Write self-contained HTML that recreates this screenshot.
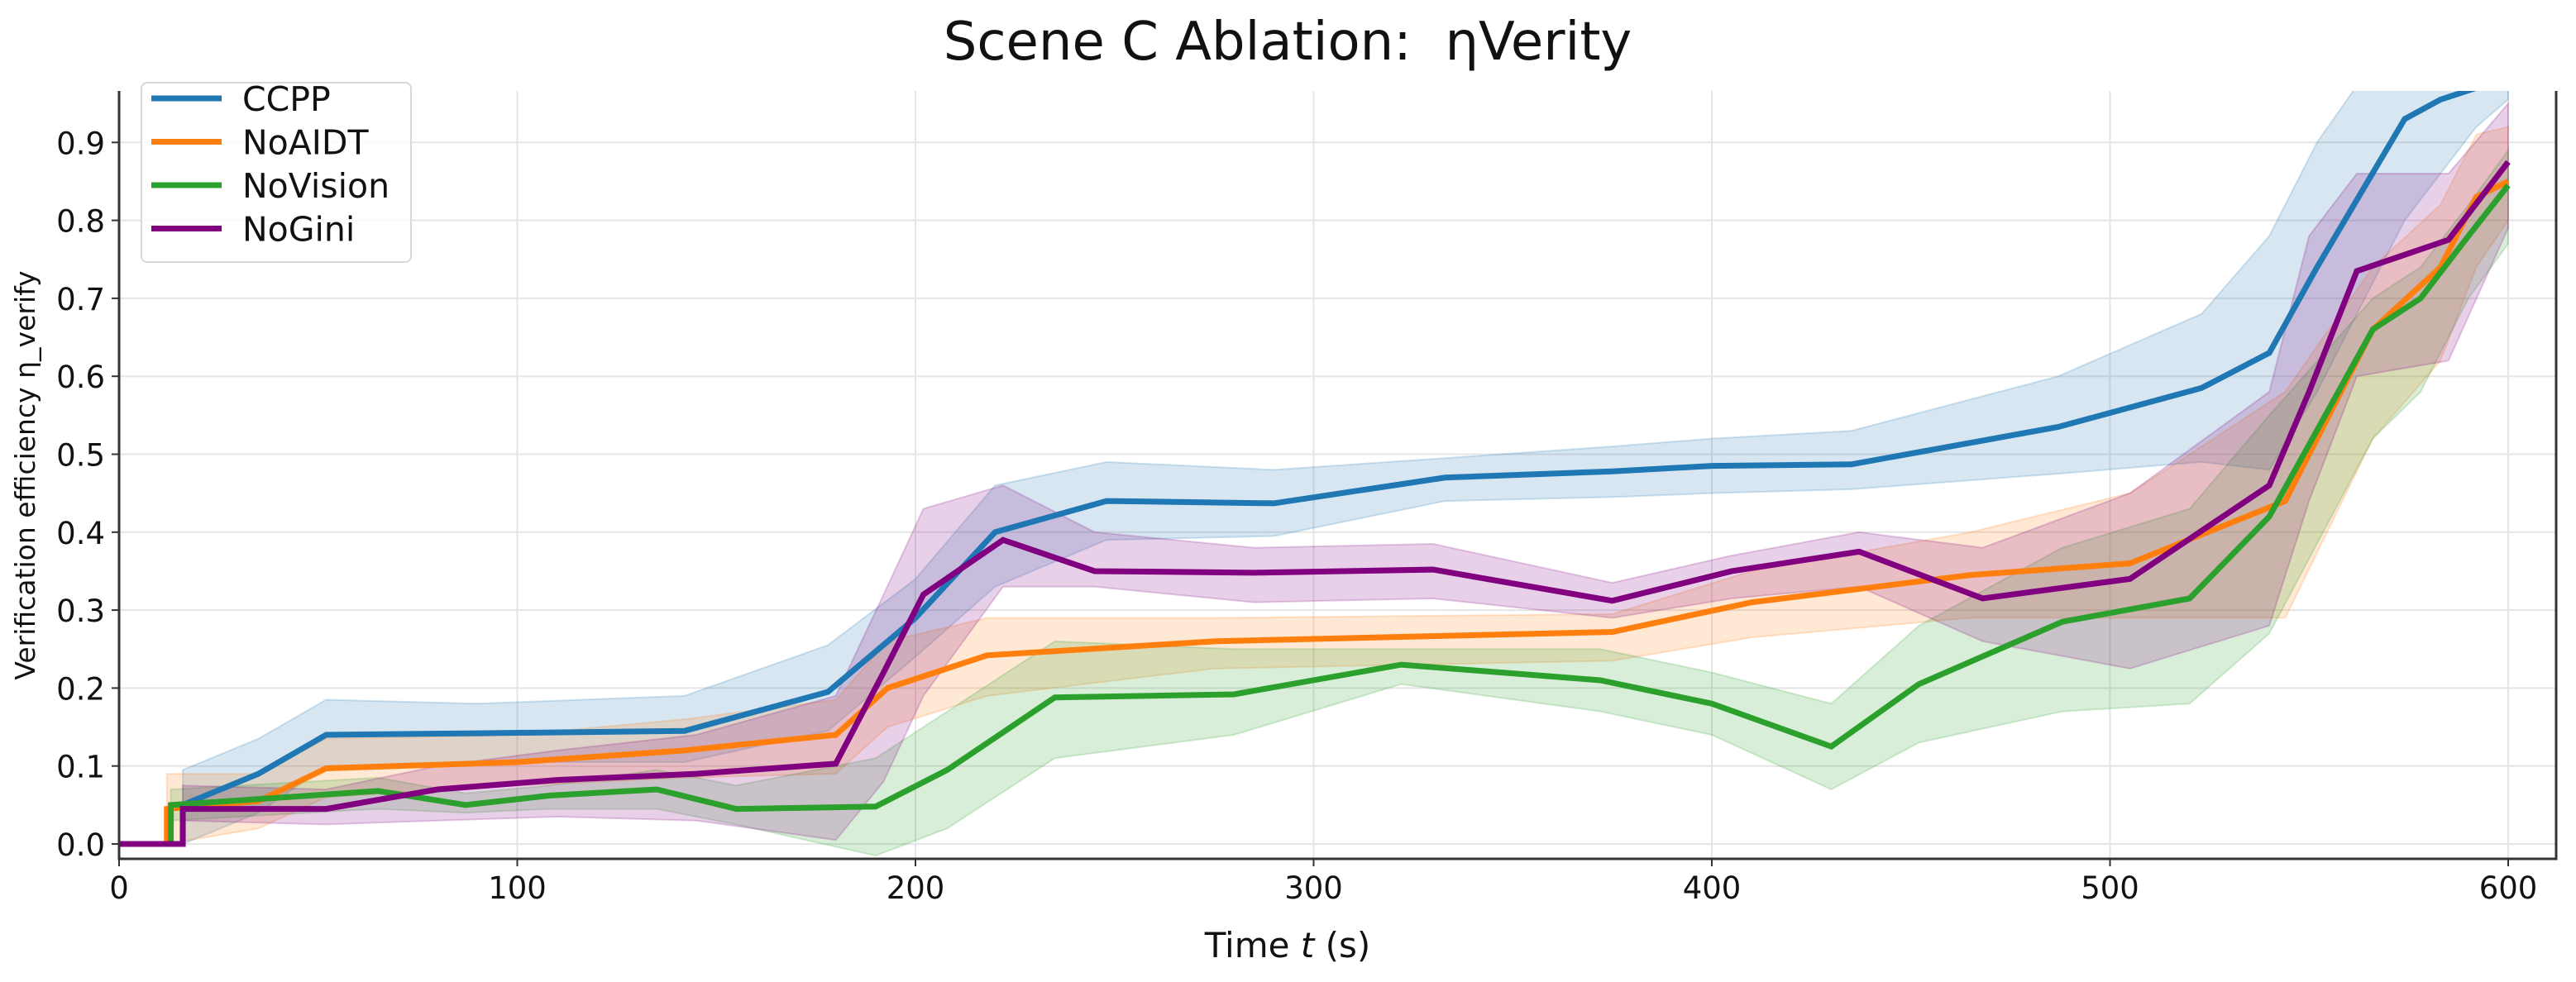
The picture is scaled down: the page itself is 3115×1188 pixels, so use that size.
<!DOCTYPE html>
<html><head><meta charset="utf-8"><style>
html,body{margin:0;padding:0;background:#fff;}
svg text{font-family:"DejaVu Sans","Liberation Sans",sans-serif;}
</style></head><body>
<svg id="chart" width="3115" height="1183" xmlns="http://www.w3.org/2000/svg">
<rect width="3115" height="1183" fill="#fff"/>
<text x="1557" y="72" font-size="64" text-anchor="middle" fill="#111">Scene C Ablation:&#160; ηVerity</text>
<g id="grid"></g>
<defs><clipPath id="clip"><rect x="144" y="110" width="2947" height="929"/></clipPath></defs>
<g id="bands" clip-path="url(#clip)"></g>
<g id="lines" clip-path="url(#clip)"></g>
<g id="axes"></g>
<text x="1557" y="1158" font-size="42" text-anchor="middle" fill="#111">Time <tspan font-style="italic">t</tspan> (s)</text>
<text transform="translate(42,575) rotate(-90)" font-size="33" text-anchor="middle" fill="#111">Verification efficiency η_verify</text>
<g id="legend"></g>
</svg>
<script>
const seriesNames = ["CCPP","NoAIDT","NoVision","NoGini"];
const seriesColors = ["#1f77b4","#ff7f0e","#2ca02c","#800080"];
const xTicks = [0,100,200,300,400,500,600];
const yTicks = [0.0,0.1,0.2,0.3,0.4,0.5,0.6,0.7,0.8,0.9];

const ccppT   = [0,16,16,35,52,90,142,178,200,220,248,290,333,375,400,435,487,523,540,552,574,583,592,600];
const ccppY   = [0,0,0.05,0.09,0.14,0.142,0.145,0.195,0.29,0.40,0.44,0.437,0.47,0.478,0.485,0.487,0.535,0.585,0.63,0.74,0.93,0.955,0.97,0.99];
const ccppLo  = [0,0,0.0,0.04,0.10,0.105,0.105,0.145,0.24,0.33,0.39,0.395,0.44,0.445,0.45,0.455,0.475,0.49,0.48,0.58,0.80,0.86,0.92,0.955];
const ccppHi  = [0,0,0.095,0.135,0.185,0.18,0.19,0.255,0.34,0.46,0.49,0.48,0.495,0.51,0.52,0.53,0.60,0.68,0.78,0.90,1.06,1.06,1.06,1.06];

const aidtT   = [0,12,12,35,52,100,142,180,193,218,275,375,410,465,505,544,566,583,592,600];
const aidtY   = [0,0,0.045,0.055,0.097,0.105,0.12,0.14,0.2,0.242,0.26,0.272,0.31,0.345,0.36,0.44,0.66,0.74,0.83,0.85];
const aidtLo  = [0,0,0.0,0.02,0.06,0.075,0.085,0.09,0.15,0.19,0.225,0.235,0.265,0.29,0.29,0.29,0.52,0.62,0.74,0.80];
const aidtHi  = [0,0,0.09,0.09,0.135,0.14,0.16,0.185,0.26,0.29,0.29,0.295,0.35,0.40,0.45,0.58,0.74,0.82,0.91,0.92];

const visT    = [0,13,13,65,87,108,135,155,190,208,235,280,322,372,400,430,452,488,520,540,566,578,590,600];
const visY    = [0,0,0.05,0.068,0.05,0.062,0.07,0.045,0.048,0.095,0.188,0.192,0.23,0.21,0.18,0.125,0.205,0.285,0.315,0.42,0.66,0.70,0.78,0.845];
const visLo   = [0,0,0.03,0.045,0.04,0.045,0.045,0.025,-0.015,0.02,0.11,0.14,0.205,0.17,0.14,0.07,0.13,0.17,0.18,0.27,0.52,0.58,0.70,0.77];
const visHi   = [0,0,0.07,0.085,0.065,0.075,0.095,0.075,0.11,0.17,0.26,0.25,0.25,0.25,0.22,0.18,0.28,0.38,0.43,0.55,0.70,0.74,0.82,0.89];

const giniT   = [0,16,16,52,80,110,145,180,192,202,222,245,285,330,375,405,437,468,505,540,550,562,585,600];
const giniY   = [0,0,0.045,0.045,0.07,0.082,0.09,0.103,0.22,0.32,0.39,0.35,0.348,0.352,0.312,0.35,0.375,0.315,0.34,0.46,0.58,0.735,0.775,0.875];
const giniLo  = [0,0,0.03,0.025,0.03,0.035,0.03,0.005,0.08,0.19,0.33,0.33,0.31,0.315,0.29,0.315,0.33,0.26,0.225,0.28,0.44,0.60,0.62,0.79];
const giniHi  = [0,0,0.075,0.07,0.10,0.12,0.14,0.19,0.32,0.43,0.46,0.40,0.38,0.385,0.335,0.37,0.40,0.38,0.45,0.58,0.78,0.86,0.86,0.95];

const allT  = [ccppT,aidtT,visT,giniT];
const allY  = [ccppY,aidtY,visY,giniY];
const allLo = [ccppLo,aidtLo,visLo,giniLo];
const allHi = [ccppHi,aidtHi,visHi,giniHi];

const X0=144, X1=3091, Y0=1039, Y1=110;
function sx(v){return 144 + v*4.815;}
function sy(v){return 1021 - v*943;}
const NS="http://www.w3.org/2000/svg";
function mk(tag, attrs, parent){const e=document.createElementNS(NS,tag);for(const k in attrs)e.setAttribute(k,attrs[k]);parent.appendChild(e);return e;}

const grid=document.getElementById('grid');
const axes=document.getElementById('axes');
xTicks.forEach(t=>{
  const gl=mk('line',{x1:sx(t),x2:sx(t),y1:Y1,y2:Y0,stroke:'#e5e5e5','stroke-width':2},grid);
  
  
  const tk=mk('line',{x1:sx(t),x2:sx(t),y1:Y0,y2:Y0+9,stroke:'#333','stroke-width':2},axes);
  
  
  const lb=mk('text',{x:sx(t),y:Y0+48,'font-size':37,'text-anchor':'middle',fill:'#111'},axes);
  lb.textContent=String(t);
  
  
});
yTicks.forEach(t=>{
  const gl=mk('line',{x1:X0,x2:X1,y1:sy(t),y2:sy(t),stroke:'#e5e5e5','stroke-width':2},grid);
  
  
  const tk=mk('line',{x1:X0-9,x2:X0,y1:sy(t),y2:sy(t),stroke:'#333','stroke-width':2},axes);
  
  
  const lb=mk('text',{x:X0-17,y:sy(t)+14,'font-size':37,'text-anchor':'end',fill:'#111'},axes);
  lb.textContent=t.toFixed(1);
  
  
});
const sp=mk('path',{d:`M${X0},${Y1} V${Y0} H${X1} V${Y1}`,fill:'none',stroke:'#333','stroke-width':3},axes);



const bands=document.getElementById('bands'), lines=document.getElementById('lines');
seriesNames.forEach((n,i)=>{
  const T=allT[i],L=allLo[i],H=allHi[i];
  let d='M'+T.map((t,j)=>sx(t)+','+sy(H[j])).join(' L');
  for(let j=T.length-1;j>=0;j--) d+=' L'+sx(T[j])+','+sy(L[j]);
  d+=' Z';
  const b=mk('path',{d:d,fill:seriesColors[i],'fill-opacity':0.18,stroke:seriesColors[i],'stroke-opacity':0.2,'stroke-width':2},bands);
  
  
});
seriesNames.forEach((n,i)=>{
  const T=allT[i],Y=allY[i];
  const p=mk('polyline',{points:T.map((t,j)=>sx(t)+','+sy(Y[j])).join(' '),fill:'none',stroke:seriesColors[i],'stroke-width':7,'stroke-linejoin':'miter'},lines);
  
  
});

const lg=document.getElementById('legend');
const box=mk('rect',{x:171,y:100,width:326,height:217,rx:7,fill:'#fff','fill-opacity':0.8,stroke:'#d8d8d8','stroke-width':2},lg);


seriesNames.forEach((n,i)=>{
  const y=119+i*52.5;
  const g=mk('g',{},lg);
  
  
  mk('line',{x1:183,x2:268,y1:y,y2:y,stroke:seriesColors[i],'stroke-width':7},g);
  const t=mk('text',{x:293,y:y+15,'font-size':41,fill:'#111'},g);
  t.textContent=n;
});
</script>
</body></html>
